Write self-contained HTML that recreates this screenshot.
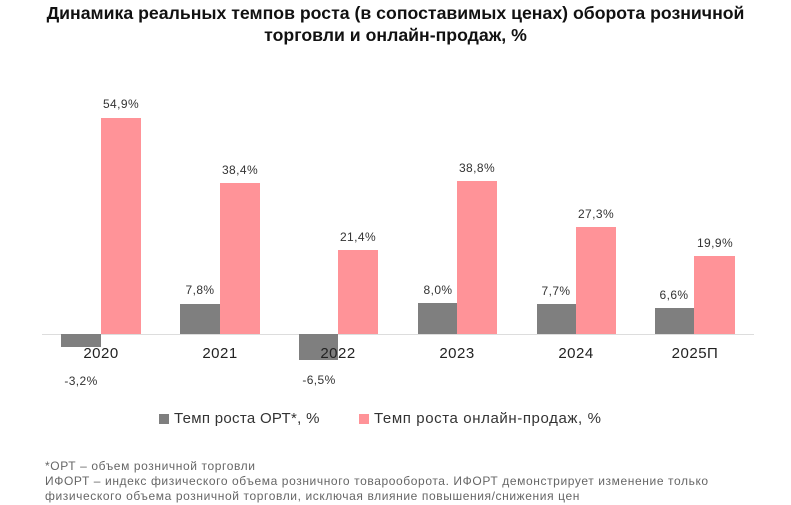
<!DOCTYPE html>
<html><head><meta charset="utf-8"><style>
body{margin:0;width:791px;height:505px;background:#fff;position:relative;overflow:hidden;font-family:"Liberation Sans",sans-serif;}
.t{position:absolute;left:0;width:791px;text-align:center;font-weight:bold;font-size:17.7px;color:#111;line-height:22px;top:2px}
.b{position:absolute}
.g{background:#7f7f7f}.p{background:#ff9398}
.l{position:absolute;font-size:12px;color:#333;width:80px;text-align:center;letter-spacing:0.4px}
.y{position:absolute;font-size:15px;color:#222;width:80px;text-align:center;top:345px;letter-spacing:0.5px}
.f{position:absolute;left:45px;font-size:12px;color:#666;line-height:15px;top:459px;letter-spacing:0.6px;white-space:nowrap}
</style></head><body>
<div class="t">Динамика реальных темпов роста (в сопоставимых ценах) оборота розничной<br>торговли и онлайн-продаж, %</div>
<div class="b" style="left:42px;top:334px;width:712px;height:1px;background:#ddd"></div>
<div class="b g" style="left:61px;top:334px;width:40px;height:13px"></div>
<div class="b p" style="left:101px;top:118px;width:40px;height:216px"></div>
<div class="b g" style="left:180px;top:304px;width:40px;height:30px"></div>
<div class="b p" style="left:220px;top:183px;width:40px;height:151px"></div>
<div class="b g" style="left:299px;top:334px;width:39px;height:26px"></div>
<div class="b p" style="left:338px;top:250px;width:40px;height:84px"></div>
<div class="b g" style="left:418px;top:303px;width:39px;height:31px"></div>
<div class="b p" style="left:457px;top:181px;width:40px;height:153px"></div>
<div class="b g" style="left:537px;top:304px;width:39px;height:30px"></div>
<div class="b p" style="left:576px;top:227px;width:40px;height:107px"></div>
<div class="b g" style="left:655px;top:308px;width:39px;height:26px"></div>
<div class="b p" style="left:694px;top:256px;width:41px;height:78px"></div>
<div class="l" style="left:81px;top:97px">54,9%</div>
<div class="l" style="left:200px;top:163px">38,4%</div>
<div class="l" style="left:318px;top:230px">21,4%</div>
<div class="l" style="left:437px;top:161px">38,8%</div>
<div class="l" style="left:556px;top:207px">27,3%</div>
<div class="l" style="left:675px;top:236px">19,9%</div>
<div class="l" style="left:160px;top:283px">7,8%</div>
<div class="l" style="left:398px;top:283px">8,0%</div>
<div class="l" style="left:516px;top:284px">7,7%</div>
<div class="l" style="left:634px;top:288px">6,6%</div>
<div class="l" style="left:41px;top:374px">-3,2%</div>
<div class="l" style="left:279px;top:373px">-6,5%</div>
<div class="y" style="left:61px">2020</div>
<div class="y" style="left:180px">2021</div>
<div class="y" style="left:298px">2022</div>
<div class="y" style="left:417px">2023</div>
<div class="y" style="left:536px">2024</div>
<div class="y" style="left:655px">2025П</div>
<div class="b g" style="left:159px;top:414px;width:10px;height:10px"></div>
<div class="b" style="left:174px;top:410px;font-size:15px;color:#333;letter-spacing:0.3px;white-space:nowrap">Темп роста ОРТ*, %</div>
<div class="b p" style="left:359px;top:414px;width:10px;height:10px"></div>
<div class="b" style="left:374px;top:410px;font-size:15px;color:#333;letter-spacing:0.6px;white-space:nowrap">Темп роста онлайн-продаж, %</div>
<div class="f">*ОРТ – объем розничной торговли<br>ИФОРТ – индекс физического объема розничного товарооборота. ИФОРТ демонстрирует изменение только<br>физического объема розничной торговли, исключая влияние повышения/снижения цен</div>
</body></html>
